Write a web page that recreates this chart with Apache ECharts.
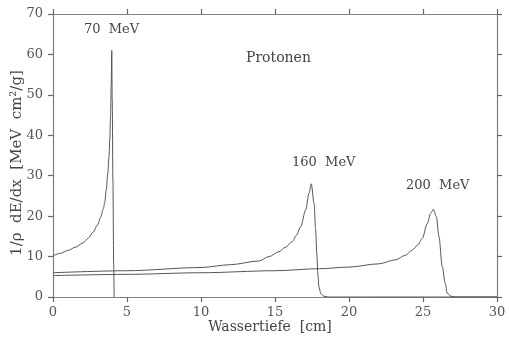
<!DOCTYPE html>
<html>
<head>
<meta charset="utf-8">
<script src="https://cdn.jsdelivr.net/npm/echarts@6/dist/echarts.min.js"></script>
<style>
  html, body { margin: 0; padding: 0; background: #fff; }
  #chart { width: 509px; height: 339px; }
</style>
</head>
<body>
<div id="chart"></div>
<script>
// depth in water [cm] and stopping power
const depth70 = [0, 0.5, 1, 1.5, 2, 2.4, 2.7, 3.0, 3.2, 3.4, 3.5, 3.6, 3.7, 3.78, 3.84, 3.89, 3.93, 3.97, 4.0, 4.05, 4.1, 4.13]
const dose70 = [10.2, 10.8, 11.5, 12.3, 13.3, 14.6, 16.0, 17.8, 19.6, 21.8, 23.5, 26.5, 30.5, 34.5, 39.0, 45.0, 52.0, 61.0, 49.0, 28.5, 8.0, 0]

const depth160 = [0, 5, 10, 12, 13.9, 14.6, 15.27, 15.7, 16.17, 16.45, 16.74, 17.07, 17.3, 17.45, 17.64, 17.75, 17.82, 17.9, 17.97, 18.1, 18.3, 18.6, 30]
const dose160 = [6.0, 6.5, 7.3, 8.0, 8.9, 10.0, 11.2, 12.3, 13.7, 15.3, 17.4, 21.5, 25.7, 28.0, 23.2, 16.6, 10.8, 5.5, 2.5, 0.8, 0.2, 0, 0]

const depth200 = [0, 5, 10, 15, 18, 20, 22, 23.15, 23.8, 24.28, 24.65, 24.95, 25.29, 25.52, 25.7, 25.9, 26.08, 26.3, 26.5, 26.64, 26.9, 27.2, 30]
const dose200 = [5.3, 5.6, 6.0, 6.5, 7.0, 7.4, 8.2, 9.2, 10.3, 11.6, 12.9, 14.5, 18.2, 20.7, 21.7, 19.9, 14.9, 7.5, 3.4, 0.9, 0.2, 0, 0]

const xTicks = [0, 5, 10, 15, 20, 25, 30]
const yTicks = [0, 10, 20, 30, 40, 50, 60, 70]

const axisColor = "#808080"
const labelColor = "#555"
const lineColor = "#555"
const textFont = "DejaVu Serif"
const numFont = "DejaVu Serif"

const chart = echarts.init(document.getElementById("chart"), null, { renderer: "canvas" })

const pairs = (xs, ys) => xs.map((x, i) => [x, ys[i]])

const mkSeries = (name, xs, ys) => ({
  name,
  type: "line",
  data: pairs(xs, ys),
  showSymbol: false,
  smooth: 0.3,
  smoothMonotone: "x",
  lineStyle: { color: lineColor, width: 1 },
  z: 1,
})

const axisBase = {
  type: "value",
  axisLine: { show: true, onZero: false, lineStyle: { color: axisColor, width: 1.2 } },
  axisTick: { show: true, length: 5, inside: false, lineStyle: { color: "#666", width: 1.2 } },
  splitLine: { show: false },
}

chart.setOption({
  animation: false,
  backgroundColor: "#fff",
  grid: { left: 53, right: 12, top: 14, bottom: 42, outerBoundsMode: "none", containLabel: false },
  xAxis: [
    {
      ...axisBase,
      min: xTicks[0],
      max: xTicks[xTicks.length - 1],
      interval: 5,
      position: "bottom",
      axisLabel: { color: labelColor, fontFamily: numFont, fontSize: 13, margin: 9 },
    },
    {
      ...axisBase,
      min: xTicks[0],
      max: xTicks[xTicks.length - 1],
      interval: 5,
      position: "top",
      axisLabel: { show: false },
    },
  ],
  yAxis: [
    {
      ...axisBase,
      min: yTicks[0],
      max: yTicks[yTicks.length - 1],
      interval: 10,
      position: "left",
      axisLabel: { color: labelColor, fontFamily: numFont, fontSize: 13, margin: 10 },
    },
    {
      ...axisBase,
      min: yTicks[0],
      max: yTicks[yTicks.length - 1],
      interval: 10,
      position: "right",
      axisLabel: { show: false },
    },
  ],
  graphic: [
    {
      type: "text", x: 270, y: 327,
      style: { text: "Wassertiefe  [cm]", font: "14px " + textFont, fill: "#444", align: "center", verticalAlign: "middle" },
    },
    {
      type: "text", x: 17, y: 163, rotation: Math.PI / 2,
      style: { text: "1/ρ  dE/dx  [MeV  cm²/g]", font: "15px " + textFont, fill: "#444", align: "center", verticalAlign: "middle" },
    },
    { type: "text", left: 84, top: 23, style: { text: "70  MeV", font: "13px " + textFont, fill: "#444" } },
    { type: "text", left: 246, top: 51, style: { text: "Protonen", font: "14px " + textFont, fill: "#444" } },
    { type: "text", left: 292, top: 156, style: { text: "160  MeV", font: "13px " + textFont, fill: "#444" } },
    { type: "text", left: 406, top: 179, style: { text: "200  MeV", font: "13px " + textFont, fill: "#444" } },
  ],
  series: [
    mkSeries("70 MeV", depth70, dose70),
    mkSeries("160 MeV", depth160, dose160),
    mkSeries("200 MeV", depth200, dose200),
  ],
})
</script>
</body>
</html>
